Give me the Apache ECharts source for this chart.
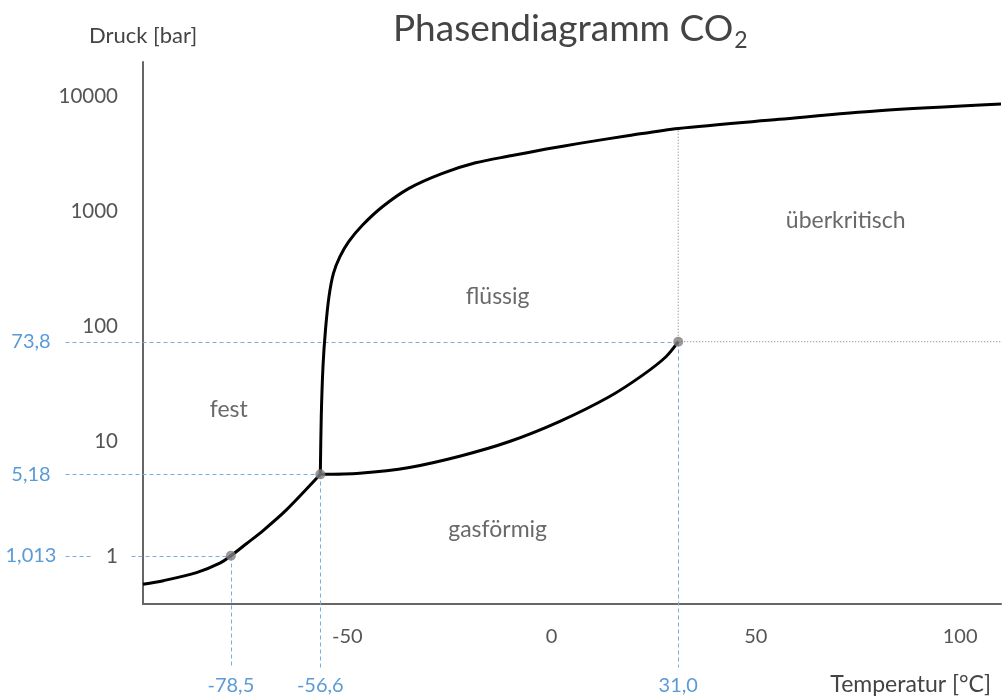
<!DOCTYPE html>
<html>
<head>
<meta charset="utf-8">
<script src="https://cdn.jsdelivr.net/npm/echarts@6.0.0/dist/echarts.min.js"></script>
<style>
html,body{margin:0;padding:0;background:#fff;}
#chart{width:1004px;height:699px;}
</style>
</head>
<body>
<div id="chart"></div>
<script>
// ---- data (temperature °C, pressure bar) ----
const sublimationCurve = [[-100,0.573],[-95.0,0.616],[-86.9,0.723],[-81.2,0.874],[-78.5,1.013],[-74.7,1.29],[-70.6,1.68],[-64.9,2.54],[-56.6,5.18]];
const meltingCurve = [[-56.6,5.18],[-56.37,16.4],[-55.95,44.7],[-55.34,93.3],[-54.48,182],[-53.39,290],[-51.8,405],[-49.7,546],[-46.25,764],[-41.4,1102],[-34.9,1592],[-26.7,2149],[-18.6,2655],[-10.0,3055],[-1.3,3495],[6.8,3918],[19.0,4589],[31,5289],[55.7,6342],[80.1,7530],[110,8610]];
const vaporCurve = [[-56.6,5.18],[-47.0,5.3],[-34.8,5.95],[-22.5,7.45],[-10.3,10.0],[1.9,14.9],[14.1,24.5],[22.3,37.8],[28.0,54.6],[31,73.8]];
const specialPoints = [[-78.5,1.013],[-56.6,5.18],[31,73.8]];
const pressureLabels = ['1,013','5,18','73,8'];
const temperatureLabels = ['-78,5','-56,6','31,0'];
const criticalTopPressure = 5289;
const regionNames = ['fest','flüssig','gasförmig','überkritisch'];
const regionPositions = [[-79.0,18.8],[-13.2,184],[-13.2,1.70],[72.0,827]];
const xTicks = [-50,0,50,100];
const yTicks = [1,10,100,1000,10000];
const xRange = [-100,110];
const yRange = [0.386,20000];
const refLineStartT = -119.1;   // horizontal guide lines begin left of the axis
const refLineBottomP = 0.11;    // vertical guide lines end below the axis
const gapAroundOne = [-113,-102.9];

const FONT = 'Lato, "Open Sans", sans-serif';
const BLUE = '#5b9bd5';
const BLUE_LINE = '#74aee3';

// guide segments [t1,p1,t2,p2]
const guideSegments = [];
const leftLabelAnchors = [];
const bottomLabelAnchors = [];
specialPoints.forEach((p, i) => {
  if (i === 0) {
    guideSegments.push([refLineStartT, p[1], gapAroundOne[0], p[1]]);
    guideSegments.push([gapAroundOne[1], p[1], p[0], p[1]]);
  } else {
    guideSegments.push([refLineStartT, p[1], p[0], p[1]]);
  }
  guideSegments.push([p[0], p[1], p[0], refLineBottomP]);
  leftLabelAnchors.push([refLineStartT, p[1]]);
  bottomLabelAnchors.push([p[0], refLineBottomP]);
});

const series = [];

series.push({
  type:'custom', clip:false, silent:true, z:1,
  data: guideSegments,
  encode:{x:[0,2], y:[1,3]},
  renderItem:(params, api) => {
    const a = api.coord([api.value(0), api.value(1)]);
    const b = api.coord([api.value(2), api.value(3)]);
    return {type:'line', shape:{x1:Math.round(a[0])+0.5, y1:Math.round(a[1])+0.5, x2:Math.round(b[0])+0.5, y2:Math.round(b[1])+0.5},
      style:{stroke:BLUE_LINE, lineWidth:1, lineDash:[4,3]}};
  }
});
series.push({
  type:'custom', clip:false, silent:true, z:2,
  data: leftLabelAnchors,
  encode:{x:0, y:1},
  renderItem:(params, api) => {
    const a = api.coord([api.value(0), api.value(1)]);
    return {type:'text', x:a[0]-34, y:a[1],
      style:{text:pressureLabels[params.dataIndex], fill:BLUE, fontSize:20, fontFamily:FONT, align:'center', verticalAlign:'middle'}};
  }
});
series.push({
  type:'custom', clip:false, silent:true, z:2,
  data: bottomLabelAnchors,
  encode:{x:0, y:1},
  renderItem:(params, api) => {
    const a = api.coord([api.value(0), api.value(1)]);
    return {type:'text', x:a[0], y:a[1]+9,
      style:{text:temperatureLabels[params.dataIndex], fill:BLUE, fontSize:20, fontFamily:FONT, align:'center', verticalAlign:'top'}};
  }
});

// grey dotted from critical point
const cp = specialPoints[2];
series.push({type:'line', symbol:'none', silent:true, z:1, clip:false,
  data:[[cp[0],cp[1]],[xRange[1],cp[1]]], lineStyle:{color:'#777', width:1, type:[1,2]}});
series.push({type:'line', symbol:'none', silent:true, z:1,
  data:[[cp[0],cp[1]],[cp[0],criticalTopPressure]], lineStyle:{color:'#777', width:1, type:[1,2]}});

// phase boundary curves
[sublimationCurve, meltingCurve, vaporCurve].forEach(c => series.push({
  type:'line', data:c, symbol:'none', smooth:0.3, z:3, silent:true,
  lineStyle:{color:'#000', width:3}
}));

// special points
series.push({type:'scatter', data:specialPoints, symbolSize:10, z:5, silent:true,
  itemStyle:{color:'#808080'}});

// region labels
series.push({type:'scatter', symbolSize:0, silent:true, z:4,
  data: regionPositions.map((p,i)=>({value:p, name:regionNames[i]})),
  label:{show:true, position:'inside', formatter:'{b}', color:'#444', fontSize:23, fontFamily:FONT}
});

const chart = echarts.init(document.getElementById('chart'), null, {renderer:'canvas'});
chart.setOption({
  animation:false,
  backgroundColor:'#fff',
  title:{
    text:'{a|Phasendiagramm CO}{b|2}',
    left:388, top:2,
    textStyle:{fontWeight:'normal', rich:{
      a:{fontSize:37, color:'#444', fontFamily:FONT, fontWeight:'normal'},
      b:{fontSize:23, color:'#444', fontFamily:FONT, fontWeight:'normal', padding:[22,0,0,1]}
    }}
  },
  grid:{left:143, right:2, top:62, bottom:95, containLabel:false},
  xAxis:{
    type:'value', min:xRange[0], max:xRange[1], interval:50,
    name:'Temperatur [°C]', nameLocation:'end', nameGap:-10,
    nameTextStyle:{color:'#444', fontSize:23, fontFamily:FONT, align:'right', verticalAlign:'top', padding:[69,0,0,0]},
    axisLine:{onZero:false, lineStyle:{color:'#666', width:2}},
    axisTick:{show:false}, splitLine:{show:false},
    axisLabel:{color:'#555', fontSize:20, fontFamily:FONT, margin:23,
      formatter: v => xTicks.includes(v) ? String(v) : ''}
  },
  yAxis:{
    type:'log', logBase:10, min:yRange[0], max:yRange[1],
    name:'Druck [bar]', nameLocation:'end', nameGap:15,
    nameTextStyle:{color:'#444', fontSize:22, fontFamily:FONT},
    axisLine:{show:true, onZero:false, lineStyle:{color:'#666', width:2}},
    axisTick:{show:false}, splitLine:{show:false},
    axisLabel:{color:'#555', fontSize:20.5, fontFamily:FONT, margin:25,
      formatter: v => { const r = Math.round(v); return yTicks.includes(r) && Math.abs(v-r)<1e-6*r+1e-9 ? String(r) : ''; }}
  },
  series: series
});
</script>
</body>
</html>
